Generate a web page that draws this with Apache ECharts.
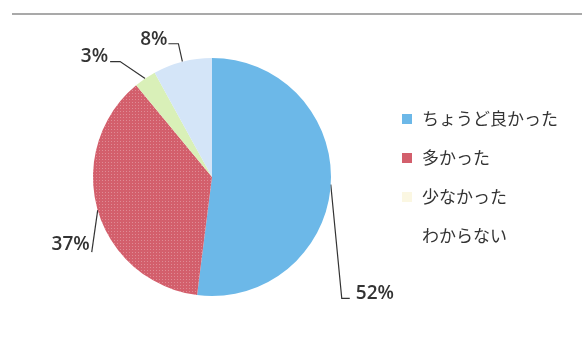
<!DOCTYPE html>
<html>
<head>
<meta charset="utf-8">
<script src="https://cdn.jsdelivr.net/npm/echarts@6/dist/echarts.min.js"></script>
<style>
  html, body { margin: 0; padding: 0; background: #ffffff; }
  #chart { width: 582px; height: 337px; }
</style>
</head>
<body>
<div id="chart"></div>
<script>
// Survey answers and their shares (%)
const categories = ['ちょうど良かった', '多かった', '少なかった', 'わからない'];
const shares = [52, 37, 3, 8];

// Fill colours for the slices, and the (fainter) legend swatches
const sliceColors = ['#6cb8e8', '#d35f6c', '#d9f0b8', '#d4e5f8'];
const legendColors = ['#6cb8e8', '#d35f6c', '#fbf7e2', 'rgba(255,255,255,0)'];

// Leader-line bends for each label: [first leg dx, dy], [second leg dx, dy], text nudge
const leaderLegs = [
  { bend: [11, 114], tail: [8, 0], text: [6, -5], align: 'left' },
  { bend: [-6, 42], tail: [0, 0], text: [-2, -8], align: 'right' },
  { bend: [-25, -17], tail: [-10, 0], text: [-2, -5], align: 'right' },
  { bend: [-4, -18], tail: [-10, 0], text: [-1, -4], align: 'right' }
];

const chart = echarts.init(document.getElementById('chart'), null, { renderer: 'canvas' });

const pieData = categories.map((name, i) => ({
  name: name,
  value: shares[i],
  itemStyle: Object.assign(
    { color: sliceColors[i] },
    i === 1 ? {
      decal: {
        symbol: 'rect',
        symbolSize: 1,
        color: 'rgba(255,255,255,0.28)',
        dashArrayX: [1, 2],
        dashArrayY: [1, 2]
      }
    } : {}
  )
}));

chart.setOption({
  backgroundColor: '#ffffff',
  animation: false,
  graphic: [{
    type: 'line',
    shape: { x1: 12, y1: 14, x2: 582, y2: 14 },
    style: { stroke: '#8c8c8c', lineWidth: 1.5 }
  }],
  legend: {
    orient: 'vertical',
    left: 397,
    top: 104,
    icon: 'rect',
    itemWidth: 10,
    itemHeight: 10,
    itemGap: 19,
    selectedMode: false,
    textStyle: {
      fontFamily: '"Noto Sans CJK JP", sans-serif',
      fontSize: 17,
      lineHeight: 20,
      color: '#333333',
      padding: [0, 0, 0, 5]
    },
    data: categories.map((name, i) => ({
      name: name,
      itemStyle: { color: legendColors[i], decal: 'none' }
    }))
  },
  series: [{
    type: 'pie',
    center: [212, 177],
    radius: 119,
    startAngle: 90,
    clockwise: true,
    avoidLabelOverlap: false,
    label: {
      show: true,
      position: 'outside',
      formatter: '{c}%',
      fontFamily: '"Open Sans", sans-serif',
      fontWeight: 600,
      fontSize: 19,
      color: '#333333'
    },
    labelLine: {
      show: true,
      length: 10,
      length2: 10,
      lineStyle: { color: '#333333', width: 1.2 }
    },
    labelLayout: function (params) {
      const leg = leaderLegs[params.dataIndex];
      const p0 = params.labelLinePoints[0];
      const p1 = [p0[0] + leg.bend[0], p0[1] + leg.bend[1]];
      const p2 = [p1[0] + leg.tail[0], p1[1] + leg.tail[1]];
      return {
        x: p2[0] + leg.text[0],
        y: p2[1] + leg.text[1],
        align: leg.align,
        verticalAlign: 'middle',
        labelLinePoints: [p0, p1, p2]
      };
    },
    emphasis: { disabled: true },
    data: pieData
  }]
});
</script>
</body>
</html>
